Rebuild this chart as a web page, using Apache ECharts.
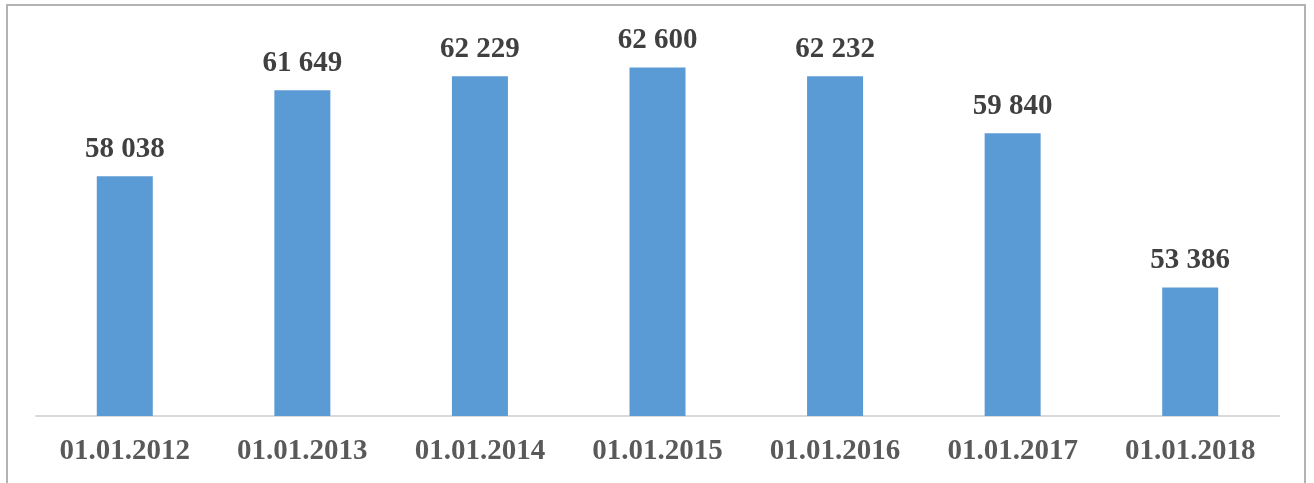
<!DOCTYPE html>
<html>
<head>
<meta charset="utf-8">
<script src="https://cdn.jsdelivr.net/npm/echarts@6/dist/echarts.min.js"></script>
<style>
    html, body {
        margin: 0;
        padding: 0;
        background: #fff;
    }
    .frame {
        position: absolute;
        left: 6px;
        top: 4px;
        width: 1300px;
        height: 500px;
        border: 2px solid #b3b3b3;
        box-sizing: border-box;
    }
    .echarts-box {
        position: absolute;
        left: 0;
        top: 0;
        width: 1314px;
        height: 483px;
    }
</style>
</head>
<body>
<div class="frame"></div>
<div class="echarts-box" id="chart"></div>
<script>
    const categories = ['01.01.2012', '01.01.2013', '01.01.2014', '01.01.2015', '01.01.2016', '01.01.2017', '01.01.2018']
    const values = [58038, 61649, 62229, 62600, 62232, 59840, 53386]

    const chart = echarts.init(document.getElementById('chart'))
    const fontFamily = '"Liberation Serif", "Times New Roman", serif'

    const options = {
        animation: false,
        grid: {
            left: 36,
            right: 35,
            top: 34,
            bottom: 67
        },
        xAxis: {
            type: 'category',
            data: categories,
            axisLine: {
                lineStyle: { color: '#d9d9d9', width: 2 }
            },
            axisTick: { show: false },
            axisLabel: {
                color: '#595959',
                fontFamily: fontFamily,
                fontWeight: 'bold',
                fontSize: 29,
                margin: 21
            }
        },
        yAxis: {
            type: 'value',
            min: 48000,
            max: 64000,
            show: false,
            splitLine: { show: false }
        },
        series: [
            {
                type: 'bar',
                data: values,
                barWidth: 56,
                itemStyle: { color: '#5b9bd5' },
                label: {
                    show: true,
                    position: 'top',
                    distance: 12,
                    color: '#404040',
                    fontFamily: fontFamily,
                    fontWeight: 'bold',
                    fontSize: 29,
                    formatter: p => String(p.value).replace(/\B(?=(\d{3})+(?!\d))/g, ' ')
                }
            }
        ]
    }
    chart.setOption(options)
</script>
</body>
</html>
